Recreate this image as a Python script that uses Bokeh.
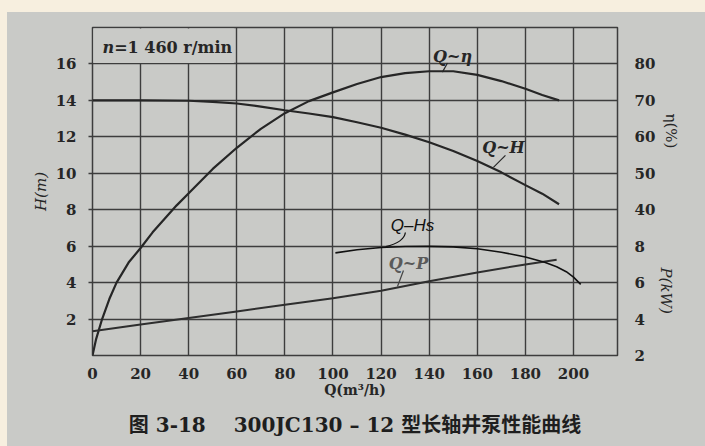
from bokeh.plotting import figure
from bokeh.models import Range1d, LinearAxis, FixedTicker, Label, BoxAnnotation, Title
from bokeh.embed import file_html
from bokeh.resources import INLINE

# ---------------- data ----------------
# Q-H curve (head, m)
q_h = [0, 20, 40, 50, 60, 70, 80, 90, 100, 110, 120, 130, 140, 150, 160, 170, 180, 187, 194]
h_vals = [14.0, 14.0, 13.98, 13.92, 13.83, 13.66, 13.46, 13.28, 13.08, 12.8, 12.5, 12.12,
          11.7, 11.22, 10.67, 10.05, 9.35, 8.88, 8.3]

# Q-eta curve (efficiency, %)
q_eta = [0, 1.5, 4, 7, 10, 15, 20, 25, 30, 35, 40, 50, 60, 70, 80, 90, 100, 110, 120, 130,
         140, 150, 160, 170, 180, 187, 194]
eta_vals = [0, 4.5, 10, 15.5, 20, 25.5, 29.5, 33.8, 37.5, 41.2, 44.5, 51.2, 57.0, 62.2, 66.5,
            69.8, 72.2, 74.5, 76.4, 77.5, 78.0, 78.0, 77.0, 75.3, 73.2, 71.5, 70.0]

# Q-P curve (shaft power, kW)
q_p = [0, 20, 40, 60, 80, 100, 120, 140, 160, 180, 193]
p_vals = [3.33, 3.7, 4.06, 4.42, 4.78, 5.14, 5.55, 6.08, 6.56, 7.0, 7.25]

# Q-Hs curve (suction head, m)
q_hs = [101, 110, 120, 130, 140, 150, 160, 170, 180, 188, 193, 197, 200, 203]
hs_vals = [5.63, 5.8, 5.93, 5.98, 5.99, 5.96, 5.86, 5.67, 5.41, 5.12, 4.87, 4.6, 4.3, 3.9]

q_ticks = [0, 20, 40, 60, 80, 100, 120, 140, 160, 180, 200]
h_ticks = [2, 4, 6, 8, 10, 12, 14, 16]
eta_ticks = [40, 50, 60, 70, 80]
p_ticks = [2, 4, 6, 8]

speed_note = "=1 460 r/min"
NB = "\u00a0"
caption = "图" + NB + "3-18" + NB * 4 + "300JC130" + NB + "–" + NB + "12" + NB + "型长轴井泵性能曲线"

# ---------------- styling ----------------
BG = "#c9cac7"
PAGE = "#f7efdf"
INK = "#262626"
GRID = "#3d3d3d"
SERIF = "DejaVu Serif"

Q_MAX, H_MAX = 218.3, 18.0
ETA_RANGE = (0, 90)
P_RANGE = (2, 20)

p = figure(width=705, height=446, x_range=Range1d(0, Q_MAX), y_range=Range1d(0, H_MAX),
           output_backend="svg", toolbar_location=None,
           min_border_left=92, min_border_right=88, min_border_top=27, min_border_bottom=91,
           background_fill_color=BG, border_fill_color=BG, border_fill_alpha=0.0)
p.extra_y_ranges = {"eta": Range1d(*ETA_RANGE), "pw": Range1d(*P_RANGE)}
p.outline_line_color = GRID
p.outline_line_width = 1.5

# grids
p.xgrid.ticker = FixedTicker(ticks=q_ticks[1:])
p.ygrid.ticker = FixedTicker(ticks=h_ticks)
for g in (p.xgrid, p.ygrid):
    g.grid_line_color = GRID
    g.grid_line_width = 1.4

# bottom axis
xa = p.xaxis[0]
xa.ticker = FixedTicker(ticks=q_ticks)
xa.axis_line_color = None
xa.major_tick_line_color = None
xa.minor_tick_line_color = None
xa.major_label_standoff = 6
xa.major_label_text_font = SERIF
xa.major_label_text_font_style = "bold"
xa.major_label_text_font_size = "15px"
xa.major_label_text_color = INK
xa.axis_label = "Q(m³/h)"
xa.axis_label_standoff = 0
xa.axis_label_text_font = SERIF
xa.axis_label_text_font_style = "bold"
xa.axis_label_text_font_size = "14px"
xa.axis_label_text_color = INK

# left axis
ya = p.yaxis[0]
ya.ticker = FixedTicker(ticks=h_ticks)
ya.axis_line_color = None
ya.major_tick_out = 4
ya.major_tick_in = 0
ya.major_tick_line_color = GRID
ya.major_tick_line_width = 1.3
ya.minor_tick_line_color = None
ya.major_label_standoff = 12
ya.major_label_text_font = SERIF
ya.major_label_text_font_style = "bold"
ya.major_label_text_font_size = "15px"
ya.major_label_text_color = INK
ya.axis_label = "H(m)"
ya.axis_label_standoff = 3
ya.axis_label_text_font = SERIF
ya.axis_label_text_font_style = "italic"
ya.axis_label_text_font_size = "15px"
ya.axis_label_text_color = INK

# right axis: eta (40..80) and P (2..8) share one column of labels
span_eta = ETA_RANGE[1] - ETA_RANGE[0]
span_p = P_RANGE[1] - P_RANGE[0]
p_pos = [ETA_RANGE[0] + (v - P_RANGE[0]) / span_p * span_eta for v in p_ticks]
overrides = {pos: str(v) for pos, v in zip(p_pos, p_ticks)}
overrides.update({v: str(v) for v in eta_ticks})
ra = LinearAxis(y_range_name="eta", ticker=FixedTicker(ticks=p_pos + eta_ticks),
                major_label_overrides=overrides)
ra.axis_line_color = None
ra.major_tick_line_color = None
ra.minor_tick_line_color = None
ra.major_label_standoff = 11
ra.major_label_text_font = SERIF
ra.major_label_text_font_style = "bold"
ra.major_label_text_font_size = "15px"
ra.major_label_text_color = INK
p.add_layout(ra, "right")

# right-hand axis titles (offset from the top of the frame)
p.add_layout(Title(text="η(%)", align="left", offset=86, standoff=6,
                   text_font=SERIF, text_font_style="normal", text_font_size="15px",
                   text_color=INK), "right")
p.add_layout(Title(text="P(kW)", align="left", offset=240, standoff=-56,
                   text_font=SERIF, text_font_style="italic", text_font_size="15px",
                   text_color=INK), "right")

# caption
p.add_layout(Title(text=caption, align="center", standoff=20,
                   text_font="DejaVu Serif, Noto Sans CJK SC", text_font_style="bold",
                   text_font_size="20px", text_color="#1e1e1e"), "below")

# box that hides the grid behind the speed note
p.add_layout(BoxAnnotation(left=0.35, right=58.8, bottom=16.05, top=17.94,
                           fill_color=BG, fill_alpha=1.0, line_color=None))

# curves
p.line(q_h, h_vals, line_color=INK, line_width=2.2)
p.line(q_eta, eta_vals, y_range_name="eta", line_color=INK, line_width=2.2)
p.line(q_p, p_vals, y_range_name="pw", line_color="#2e2e2e", line_width=2.0)
p.line(q_hs, hs_vals, line_color="#111111", line_width=1.6)

# leader lines for curve names
p.line([147.6, 145.5], [16.05, 15.55], line_color=INK, line_width=1.2)
p.line([171.7, 166.7], [10.98, 10.32], line_color=INK, line_width=1.2)
p.line([129.3, 126.8], [4.66, 3.79], line_color="#444444", line_width=1.2)
p.bezier(x0=[130.1], y0=[6.75], x1=[121.9], y1=[5.98], cx0=[129.6], cy0=[6.3],
         cx1=[126.0], cy1=[6.1], line_color="#111111", line_width=1.3)


def lab(x, y, text, size="15px", font=SERIF, style="bold", color=INK, align="center"):
    p.add_layout(Label(x=x, y=y, text=text, text_font=font, text_font_style=style,
                       text_font_size=size, text_color=color, text_align=align,
                       text_baseline="middle"))


lab(149.7, 16.41, "Q~η", size="16px", style="bold italic")
lab(170.9, 11.42, "Q~H", size="16px", style="bold italic")
lab(133.1, 7.13, "Q–Hs", size="17px", font="Liberation Sans", style="italic", color="#111111")
lab(131.4, 5.05, "Q~P", size="16px", style="bold italic", color="#5a5a5a")

# speed note
lab(4.2, 16.9, "n", size="16px", style="bold italic", align="left")
lab(9.0, 16.9, speed_note, size="16px", align="left")

html = file_html(p, INLINE)
css = ("<style>html, body { background: linear-gradient(to bottom, %s 0px, %s 12px, "
       "transparent 12px), linear-gradient(to right, %s 0px, %s 7px, %s 7px) !important; }"
       "</style></head>" % (PAGE, PAGE, PAGE, PAGE, BG))
html = html.replace("</head>", css, 1)
with open("out.html", "w") as f:
    f.write(html)
